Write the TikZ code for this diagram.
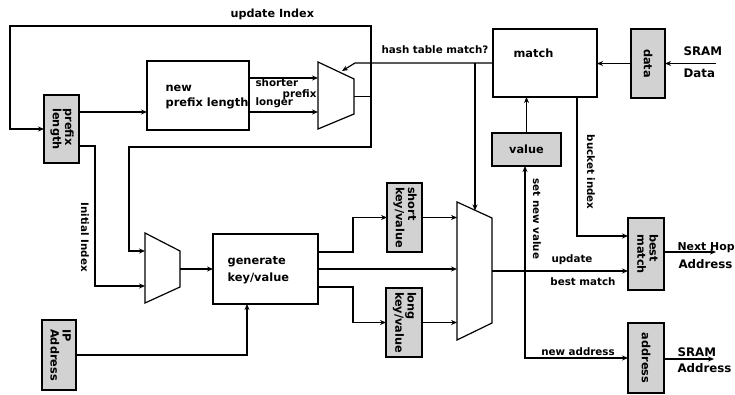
\documentclass[tikz,border=0pt]{standalone}
\usepackage{fontspec}
\setmainfont{DejaVu Sans}
\usepackage{graphicx}
\usetikzlibrary{arrows.meta}
\newcommand\twol[2]{\begin{tabular}{@{}l@{}}#1\\#2\end{tabular}}
\begin{document}
\begin{tikzpicture}[x=1pt,y=-1pt,line width=1.2pt,
  arr/.style={-{Stealth[length=6pt,width=5pt]}},
  wbox/.style={draw,fill=white,inner sep=0,outer sep=0},
  sbox/.style={draw,fill=gray!35,inner sep=0,outer sep=0,font=\bfseries\fontsize{11.3}{11.8}\selectfont},
  lab/.style={font=\bfseries\fontsize{10.3}{12}\selectfont,inner sep=0},
  tinylab/.style={font=\bfseries\fontsize{10.3}{11}\selectfont,inner sep=0},
  boxt/.style={font=\bfseries\fontsize{11.4}{13}\selectfont,inner sep=0},
  biglab/.style={font=\bfseries\fontsize{11.8}{13}\selectfont,inner sep=0},
  mux/.style={draw,fill=white,line join=miter}]
\useasboundingbox (0,0) rectangle (735,395);

% boxes
\node[wbox,minimum width=102,minimum height=69] (npl) at (198,95.5) {};
\node[wbox,minimum width=104,minimum height=68] (match) at (545,63) {};
\node[wbox,minimum width=105,minimum height=70] (gen) at (265.5,269) {};
\node[sbox,minimum width=35,minimum height=68] (pl) at (61.5,129) {\rotatebox{-90}{\twol{prefix}{length}}};
\node[sbox,minimum width=34,minimum height=70] (ip) at (59,355) {\rotatebox{-90}{\twol{IP}{Address}}};
\node[sbox,minimum width=35,minimum height=69] (skv) at (404.5,217.5) {\rotatebox{-90}{\twol{short}{key/value}}};
\node[sbox,minimum width=36,minimum height=69] (lkv) at (404,322.5) {\rotatebox{-90}{\twol{long}{key/value}}};
\node[sbox,minimum width=34,minimum height=69] (data) at (648,63.5) {\rotatebox{-90}{data}};
\node[sbox,minimum width=69,minimum height=33] (value) at (526.5,149.5) {value};
\node[sbox,minimum width=36,minimum height=72] (bm) at (646,254) {\rotatebox{-90}{\twol{best}{match}}};
\node[sbox,minimum width=36,minimum height=70] (addr) at (646,358) {\rotatebox{-90}{address}};

% box texts
\node[boxt,anchor=base west] (tNew) at (165,92) {new};
\node[boxt,anchor=base west] (tPL) at (165,107) {prefix length};
\node[boxt,anchor=base west] (tMatch) at (513,58) {match};
\node[boxt,anchor=base west] (tGen) at (227,264) {generate};
\node[boxt,anchor=base west] (tKV) at (227,281) {key/value};

% multiplexers
\coordinate (m1a) at (318,62); \coordinate (m1b) at (354,79);
\coordinate (m1c) at (354,114); \coordinate (m1d) at (318,129);
\draw[mux] (m1a) -- (m1b) -- (m1c) -- (m1d) -- cycle;
\coordinate (m1i1) at (318,78); \coordinate (m1i2) at (318,112);
\coordinate (m1o) at (354,96.5);

\coordinate (m2a) at (145,233); \coordinate (m2b) at (180,251);
\coordinate (m2c) at (180,287); \coordinate (m2d) at (145,303);
\draw[mux] (m2a) -- (m2b) -- (m2c) -- (m2d) -- cycle;
\coordinate (m2i1) at (145,251); \coordinate (m2i2) at (145,286);
\coordinate (m2o) at (180,269);

\coordinate (m3a) at (457,202); \coordinate (m3b) at (492,218);
\coordinate (m3c) at (492,323); \coordinate (m3d) at (457,340);
\draw[mux] (m3a) -- (m3b) -- (m3c) -- (m3d) -- cycle;
\coordinate (m3i1) at (457,217.5); \coordinate (m3i2) at (457,269);
\coordinate (m3i3) at (457,322.5); \coordinate (m3o) at (492,271);
\coordinate (m3t) at (475,210.5);

% junctions and end points
\coordinate (j1) at (371,96.5);
\coordinate (j2) at (525,271);
\coordinate (j3) at (475,63);
\coordinate (h1) at (355,63);
\coordinate (h2) at (342,71);
\coordinate (a1) at (79,112);
\coordinate (a2) at (79,146);
\coordinate (gin) at (247,304);
\coordinate (go1) at (318,252);
\coordinate (go3) at (318,287);
\coordinate (bk) at (577,97);
\coordinate (bkin) at (628,236);
\coordinate (sd) at (716,63.5);
\coordinate (nh) at (716,252);
\coordinate (sa) at (714,359);

% connectors
\draw[arr] (a1) -- (npl.west|-a1);
\draw[arr] (a2) -- (95,146) |- (m2i2);
\draw[arr] (npl.east|-m1i1) -- (m1i1);
\draw[arr] (npl.east|-m1i2) -- (m1i2);
\draw (m1o) -- (j1);
\draw[arr] (j1) |- (10,26) |- (pl.west);
\draw[arr] (j1) |- (129,147) |- (m2i1);
\draw[arr] (m2o) -- (gen.west|-m2o);
\draw[arr] (ip.east) -| (gin);
\draw[arr] (go1) -- (353,252) |- (skv.west);
\draw[arr] (gen.east) -- (m3i2);
\draw[arr] (go3) -- (353,287) |- (lkv.west);
\draw[arr] (skv.east) -- (m3i1);
\draw[arr] (lkv.east) -- (m3i3);
\draw[arr] (m3o) -- (bm.west|-m3o);
\draw[arr] (j2) -- (value.south-|j2);
\draw[arr] (j2) |- (addr.west);
\draw[arr] (value.north) -- (match.south-|value.north);
\draw[arr] (data.west) -- (match.east|-data.west);
\draw[arr] (sd) -- (data.east);
\draw[arr] (bk) |- (bkin);
\draw[arr] (bm.east|-nh) -- (nh);
\draw[arr] (addr.east|-sa) -- (sa);
\draw[arr] (match.west) -- (h1) -- (h2);
\draw[arr] (j3) -- (m3t);

% labels
\node[lab,font=\bfseries\fontsize{11.2}{13}\selectfont,anchor=base west] (tUpd) at (230,18) {update Index};
\node[lab,anchor=base] (tHash) at (435,54) {hash table match?};
\node[tinylab,anchor=base west] (tSh) at (255,87) {shorter};
\node[tinylab,anchor=base east] (tPr) at (317,98) {prefix};
\node[tinylab,anchor=base west] (tLo) at (255,106) {longer};
\node[lab,rotate=-90] (tInit) at (85,237) {Initial Index};
\node[lab,rotate=-90] (tSet) at (537,219) {set new value};
\node[lab,rotate=-90] (tBk) at (591,172) {bucket index};
\node[lab,anchor=base] (tUp) at (572,262) {update};
\node[lab,anchor=base] (tBM) at (583,285) {best match};
\node[lab,anchor=base] (tNA) at (578,355) {new address};
\node[biglab,anchor=base west] (tS1) at (683,56) {SRAM};
\node[biglab,anchor=base west] (tD1) at (683,78) {Data};
\node[biglab,font=\bfseries\fontsize{10.9}{13}\selectfont,anchor=base west] (tNH) at (677,250) {Next Hop};
\node[biglab,anchor=base west] (tA1) at (678,268) {Address};
\node[biglab,anchor=base west] (tS2) at (677,356) {SRAM};
\node[biglab,anchor=base west] (tA2) at (677,372) {Address};
\end{tikzpicture}
\end{document}
